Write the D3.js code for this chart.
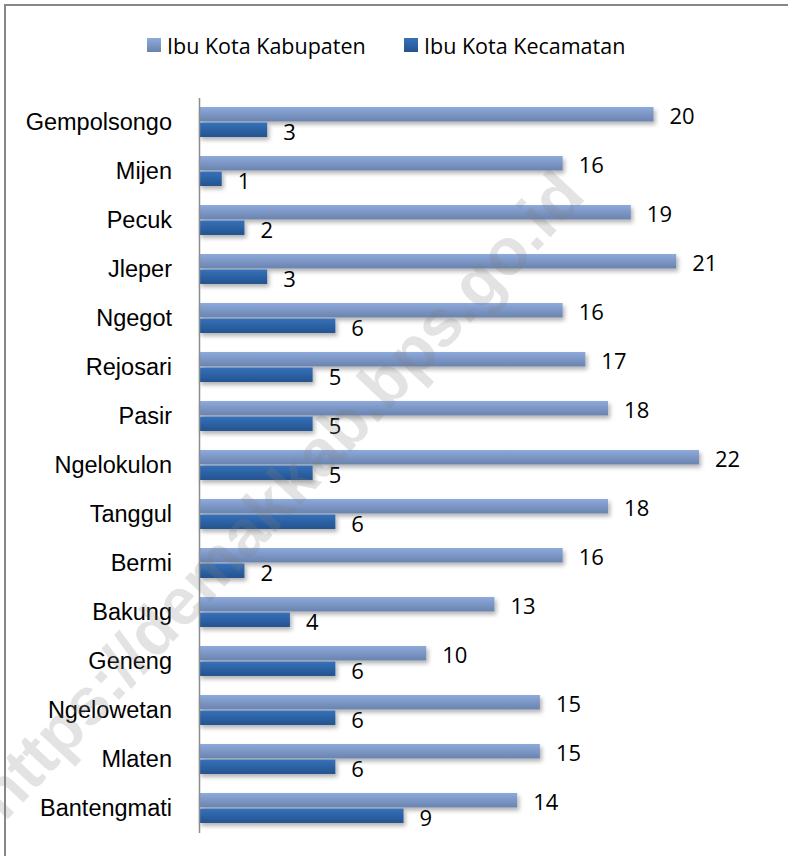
<!DOCTYPE html>
<html>
<head>
<meta charset="utf-8">
<script src="https://cdn.jsdelivr.net/npm/d3@7"></script>
<style>
  body { margin: 0; background: #fff; }
  svg { display: block; font-family: 'Open Sans', sans-serif; }
  .cat-label { font-size: 23.5px; fill: #000; }
  .val-label { font-size: 22px; fill: #000; }
  .legend text { font-size: 21.5px; fill: #000; }
</style>
</head>
<body>
<svg width="788" height="856"></svg>
<script>
const categories = ['Gempolsongo', 'Mijen', 'Pecuk', 'Jleper', 'Ngegot', 'Rejosari', 'Pasir',
  'Ngelokulon', 'Tanggul', 'Bermi', 'Bakung', 'Geneng', 'Ngelowetan', 'Mlaten', 'Bantengmati']
const seriesNames = ['Ibu Kota Kabupaten', 'Ibu Kota Kecamatan']
const kabupaten = [20, 16, 19, 21, 16, 17, 18, 22, 18, 16, 13, 10, 15, 15, 14]
const kecamatan = [3, 1, 2, 3, 6, 5, 5, 5, 6, 2, 4, 6, 6, 6, 9]
const watermark = 'https://demakkab.bps.go.id'

const width = 788
const height = 856
const margin = { top: 97.5, bottom: 23.5, left: 199, right: 89 }

const svg = d3.select('svg')
const defs = svg.append('defs')

const gradients = [
  { id: 'g-light', top: '#8eaadc', bottom: '#6a83ae' },
  { id: 'g-dark', top: '#3571bb', bottom: '#24538e' },
]
gradients.forEach(g => {
  const lg = defs.append('linearGradient')
    .attr('id', g.id)
    .attr('x1', 0).attr('y1', 0).attr('x2', 0).attr('y2', 1)
  lg.append('stop').attr('offset', '0%').attr('stop-color', g.top)
  lg.append('stop').attr('offset', '100%').attr('stop-color', g.bottom)
})

defs.append('filter')
  .attr('id', 'shadow')
  .attr('x', '-10%').attr('y', '-50%').attr('width', '130%').attr('height', '250%')
  .append('feDropShadow')
  .attr('dx', 2).attr('dy', 3)
  .attr('stdDeviation', 2)
  .attr('flood-color', '#000')
  .attr('flood-opacity', 0.3)

const colorScale = d3.scaleOrdinal(seriesNames, ['url(#g-light)', 'url(#g-dark)'])

const data = categories.map((c, i) => ({
  name: c,
  values: [
    { key: seriesNames[0], value: kabupaten[i] },
    { key: seriesNames[1], value: kecamatan[i] },
  ],
}))

const xScale = d3.scaleLinear([0, 22], [margin.left, width - margin.right])

const yScale = d3.scaleBand(categories, [margin.top, height - margin.bottom])
  .paddingInner(0.388)
  .paddingOuter(0.194)

const ySub = d3.scaleBand(seriesNames, [0, yScale.bandwidth()])
  .paddingInner(0.07)

// chart border
svg.append('rect')
  .attr('x', 5).attr('y', 5)
  .attr('width', 820).attr('height', 900)
  .attr('fill', 'none')
  .attr('stroke', '#878787')
  .attr('stroke-width', 2)

// legend
const legend = svg.append('g').classed('legend', true)
const legendX = [147, 404]
seriesNames.forEach((s, i) => {
  legend.append('rect')
    .attr('x', legendX[i]).attr('y', 38)
    .attr('width', 14).attr('height', 14)
    .attr('fill', colorScale(s))
  legend.append('text')
    .attr('x', legendX[i] + 20).attr('y', 45)
    .attr('dominant-baseline', 'central')
    .text(s)
})

// bars
const groups = svg.append('g')
  .selectAll('g')
  .data(data)
  .join('g')
  .attr('transform', d => `translate(0,${ yScale(d.name) })`)

groups.selectAll('rect')
  .data(d => d.values)
  .join('rect')
  .attr('x', xScale(0))
  .attr('y', d => ySub(d.key))
  .attr('width', d => xScale(d.value) - xScale(0))
  .attr('height', ySub.bandwidth())
  .attr('fill', d => colorScale(d.key))
  .attr('filter', 'url(#shadow)')

groups.selectAll('text')
  .data(d => d.values)
  .join('text')
  .classed('val-label', true)
  .attr('x', d => xScale(d.value) + 16)
  .attr('y', d => ySub(d.key) + ySub.bandwidth() / 2 + 1)
  .attr('dominant-baseline', 'central')
  .text(d => d.value)

// category axis
const yAxis = d3.axisLeft(yScale).tickSize(0).tickPadding(27)
const yAxisEl = svg.append('g')
  .attr('transform', `translate(${ margin.left },0)`)
  .call(yAxis)
yAxisEl.select('.domain')
  .attr('stroke', '#8c8c8c')
  .attr('stroke-width', 1.5)
yAxisEl.selectAll('.tick text')
  .classed('cat-label', true)
  .attr('font-family', null)
  .attr('font-size', null)
  .attr('fill', '#000')

// watermark
svg.append('text')
  .attr('transform', 'translate(296,510) rotate(-47)')
  .attr('text-anchor', 'middle')
  .attr('font-family', 'Liberation Sans, Arial, sans-serif')
  .attr('font-weight', 'bold')
  .attr('font-size', 66)
  .attr('fill', '#7f7f7f')
  .attr('fill-opacity', 0.22)
  .text(watermark)
</script>
</body>
</html>
